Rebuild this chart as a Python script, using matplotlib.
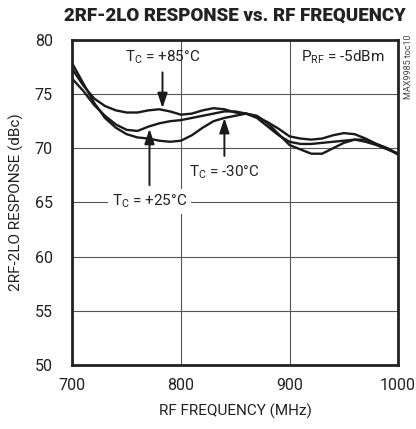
import numpy as np
import matplotlib
matplotlib.use("Agg")
import matplotlib.pyplot as plt

plt.rcParams['font.family'] = ['Roboto', 'DejaVu Sans']
plt.rcParams['mathtext.fontset'] = 'custom'
plt.rcParams['mathtext.rm'] = 'Roboto'

freq = [700, 710, 720, 730, 740, 750, 760, 770, 780, 790, 800, 810, 820, 830, 840, 850,
        860, 870, 880, 890, 900, 910, 920, 930, 940, 950, 960, 970, 980, 990, 1000]

resp_p85 = [77.3, 75.8, 74.6, 73.9, 73.5, 73.3, 73.3, 73.5, 73.6, 73.4, 73.1, 73.2, 73.5, 73.7, 73.6, 73.3,
            73.2, 72.9, 72.4, 71.8, 71.1, 70.9, 70.8, 70.9, 71.2, 71.4, 71.3, 70.9, 70.4, 70.0, 69.5]
resp_p25 = [76.4, 75.3, 74.0, 73.0, 72.2, 71.7, 71.6, 72.0, 72.3, 72.5, 72.6, 72.8, 73.0, 73.2, 73.4, 73.4,
            73.2, 72.8, 72.0, 71.2, 70.6, 70.4, 70.4, 70.5, 70.6, 70.7, 70.8, 70.6, 70.3, 69.9, 69.5]
resp_m30 = [77.8, 76.0, 74.2, 72.8, 71.9, 71.3, 71.0, 70.9, 70.7, 70.6, 70.7, 71.2, 71.9, 72.5, 72.8, 73.0,
            73.2, 73.0, 72.3, 71.3, 70.3, 69.9, 69.5, 69.5, 70.0, 70.5, 70.8, 70.8, 70.4, 70.0, 69.4]

xticks = [700, 800, 900, 1000]
yticks = [50, 55, 60, 65, 70, 75, 80]

fs = 11
fig = plt.figure(figsize=(4.16, 4.29), dpi=100)
ax = fig.add_axes([0.174, 0.149, 0.783, 0.758])

for r in (resp_p85, resp_p25, resp_m30):
    ax.plot(freq, r, color='#1a1a1a', lw=1.7, solid_capstyle='round')

ax.set_xlim(700, 1000)
ax.set_ylim(50, 80)
ax.set_xticks(xticks)
ax.set_yticks(yticks)
ax.tick_params(length=0, labelsize=11.5, colors='#222222')
ax.tick_params(axis='x', pad=9)
ax.tick_params(axis='y', pad=14)
ax.grid(True, color='#555555', lw=0.8)
ax.set_axisbelow(True)
for s in ax.spines.values():
    s.set_linewidth(2.0)
    s.set_color('#222222')

ax.set_xlabel('RF FREQUENCY (MHz)', fontsize=fs, color='#222222', labelpad=8)
ax.set_ylabel('2RF-2LO RESPONSE (dBc)', fontsize=fs, color='#222222', labelpad=8)
fig.suptitle('2RF-2LO RESPONSE vs. RF FREQUENCY', x=0.565, y=0.985, fontsize=13.5,
             fontweight='black', color='#222222')

arrow = dict(arrowstyle='-|>,head_width=0.3,head_length=0.9', color='#1a1a1a', lw=1.4,
             shrinkA=0, shrinkB=0)
ax.annotate('', xy=(783, 73.7), xytext=(783, 77.0), arrowprops=arrow)
ax.text(783, 78.4, r'T$\mathregular{_C}$ = +85°C', ha='center', va='center', fontsize=fs, color='#222222')

ax.annotate('', xy=(771, 71.8), xytext=(771, 66.6), arrowprops=arrow)
ax.text(771, 65.1, r'T$\mathregular{_C}$ = +25°C', ha='center', va='center', fontsize=fs, color='#222222',
        bbox=dict(facecolor='white', edgecolor='none', pad=3))

ax.annotate('', xy=(840, 72.8), xytext=(840, 69.3), arrowprops=arrow)
ax.text(840, 67.8, r'T$\mathregular{_C}$ = -30°C', ha='center', va='center', fontsize=fs, color='#222222')

ax.text(988, 78.4, r'P$\mathregular{_{RF}}$ = -5dBm', ha='right', va='center', fontsize=fs, color='#222222')

fig.text(0.981, 0.845, 'MAX9985 toc10', rotation=90, ha='center', va='center', fontsize=6.5, color='#444444')

fig.savefig('out.png', dpi=100)
